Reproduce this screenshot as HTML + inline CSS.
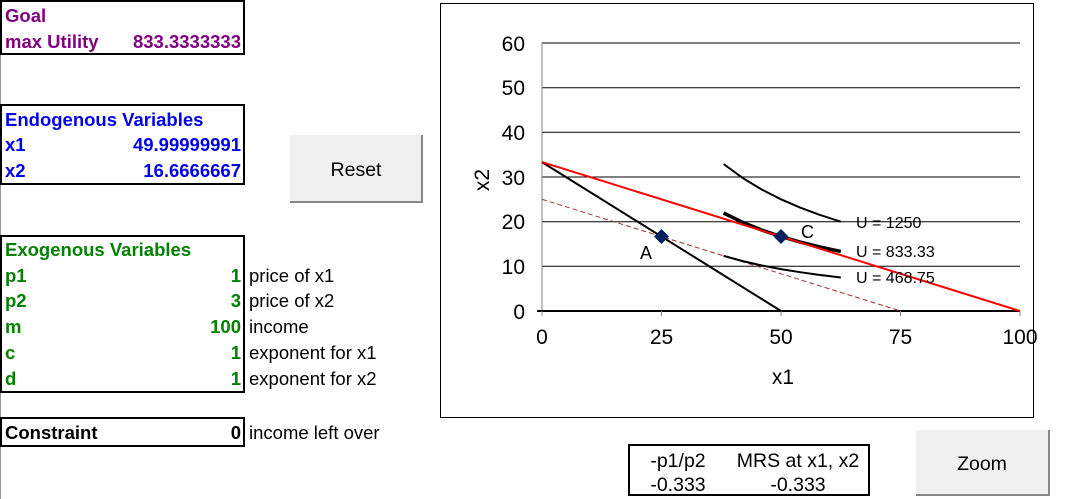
<!DOCTYPE html>
<html><head><meta charset="utf-8"><style>
html,body{margin:0;padding:0;background:#fff;}
svg{display:block;font-family:"Liberation Sans",Arial,sans-serif;}
</style></head><body>
<svg width="1066" height="499" viewBox="0 0 1066 499" xmlns="http://www.w3.org/2000/svg">
<line x1="0.5" y1="0" x2="0.5" y2="499" stroke="#999" stroke-width="1"/>
<g fill="none" stroke="#000" stroke-width="2">
<rect x="1" y="1" width="243" height="53"/>
<rect x="1" y="105" width="243" height="79"/>
<rect x="1" y="236" width="243" height="156"/>
<rect x="1" y="418" width="243" height="28"/>
</g>
<g font-weight="bold" font-size="18.5">
<text x="5" y="22" fill="#800080">Goal</text>
<text x="5" y="48" fill="#800080">max Utility</text>
<text x="241" y="48" fill="#800080" text-anchor="end">833.3333333</text>
<g fill="#0000ee">
<text x="5" y="126">Endogenous Variables</text>
<text x="5" y="151">x1</text><text x="241" y="151" text-anchor="end">49.99999991</text>
<text x="5" y="177">x2</text><text x="241" y="177" text-anchor="end">16.6666667</text>
</g>
<g fill="#008000">
<text x="5" y="256">Exogenous Variables</text>
<text x="5" y="282">p1</text><text x="241" y="282" text-anchor="end">1</text>
<text x="5" y="307">p2</text><text x="241" y="307" text-anchor="end">3</text>
<text x="5" y="333">m</text><text x="241" y="333" text-anchor="end">100</text>
<text x="5" y="359">c</text><text x="241" y="359" text-anchor="end">1</text>
<text x="5" y="385">d</text><text x="241" y="385" text-anchor="end">1</text>
</g>
<text x="5" y="439" fill="#000">Constraint</text><text x="241" y="439" text-anchor="end">0</text>
</g>
<g font-size="18.5" fill="#000">
<text x="249" y="282">price of x1</text>
<text x="249" y="307">price of x2</text>
<text x="249" y="333">income</text>
<text x="249" y="359">exponent for x1</text>
<text x="249" y="385">exponent for x2</text>
<text x="249" y="439">income left over</text>
</g>
<rect x="290" y="135" width="132" height="67" fill="#f0f0f0"/>
<path d="M290 202 H422 V135" fill="none" stroke="#888" stroke-width="2"/>
<text x="356" y="176" font-size="19.5" text-anchor="middle">Reset</text>
<rect x="916" y="430" width="133" height="65" fill="#f0f0f0"/>
<path d="M916 495 H1049 V430" fill="none" stroke="#888" stroke-width="2"/>
<text x="982" y="470" font-size="19.5" text-anchor="middle">Zoom</text>
<rect x="629" y="445" width="240" height="50" fill="none" stroke="#000" stroke-width="2"/>
<g font-size="19.5" text-anchor="middle">
<text x="678" y="467">-p1/p2</text><text x="798" y="467">MRS at x1, x2</text>
<text x="678" y="491">-0.333</text><text x="798" y="491">-0.333</text>
</g>
<rect x="440.5" y="3.5" width="593" height="414" fill="#fff" stroke="#000" stroke-width="1"/>
<g stroke="#000" stroke-width="1">
<line x1="542" y1="266.3" x2="1020" y2="266.3"/>
<line x1="542" y1="221.7" x2="1020" y2="221.7"/>
<line x1="542" y1="177" x2="1020" y2="177"/>
<line x1="542" y1="132.3" x2="1020" y2="132.3"/>
<line x1="542" y1="87.7" x2="1020" y2="87.7"/>
<line x1="542" y1="43" x2="1020" y2="43"/>
</g>
<line x1="542" y1="43" x2="542" y2="315" stroke="#808080" stroke-width="1"/>
<line x1="537" y1="311" x2="1020" y2="311" stroke="#000" stroke-width="2"/>
<g stroke="#808080"><line x1="542" y1="311" x2="542" y2="316"/><line x1="661.5" y1="311" x2="661.5" y2="316"/><line x1="781" y1="311" x2="781" y2="316"/><line x1="900.5" y1="311" x2="900.5" y2="316"/><line x1="1020" y1="311" x2="1020" y2="316"/></g>
<g font-size="21" text-anchor="end">
<text x="525" y="319">0</text><text x="525" y="274">10</text><text x="525" y="229">20</text>
<text x="525" y="185">30</text><text x="525" y="140">40</text><text x="525" y="95">50</text><text x="525" y="51">60</text>
</g>
<g font-size="21" text-anchor="middle">
<text x="542" y="344">0</text><text x="661.5" y="344">25</text><text x="781" y="344">50</text>
<text x="900.5" y="344">75</text><text x="1020" y="344">100</text>
<text x="783" y="384">x1</text>
<text transform="translate(489,180) rotate(-90)">x2</text>
</g>
<line x1="542" y1="199.3" x2="900.5" y2="311" stroke="#993333" stroke-width="1" stroke-dasharray="5,3"/>
<line x1="542" y1="162.1" x2="781" y2="311" stroke="#000" stroke-width="2"/>
<polyline points="723.6,164 742.8,178.1 761.9,189.6 781,199.3 800.1,207.6 819.2,214.7 840.8,221.7" fill="none" stroke="#000" stroke-width="2"/>
<polyline points="723.6,213 742.8,222.4 761.9,230.1 781,236.5 800.1,242.1 819.2,246.8 840.8,251.4" fill="none" stroke="#000" stroke-width="3.5"/>
<polyline points="723.6,255.9 742.8,261.1 761.9,265.5 781,269.1 800.1,272.2 819.2,274.9 840.8,277.5" fill="none" stroke="#000" stroke-width="2"/>
<line x1="542" y1="162.1" x2="1020" y2="311" stroke="#ff0000" stroke-width="2"/>
<path d="M661.5 229 L669 236.5 L661.5 244 L654 236.5 Z" fill="#002060"/>
<path d="M781 229 L788.5 236.5 L781 244 L773.5 236.5 Z" fill="#002060"/>
<g font-size="16">
<text x="856" y="228">U = 1250</text>
<text x="856" y="257">U = 833.33</text>
<text x="856" y="283">U = 468.75</text>
</g>
<text x="640" y="259" font-size="18">A</text>
<text x="801" y="238" font-size="18">C</text>
</svg>
</body></html>
